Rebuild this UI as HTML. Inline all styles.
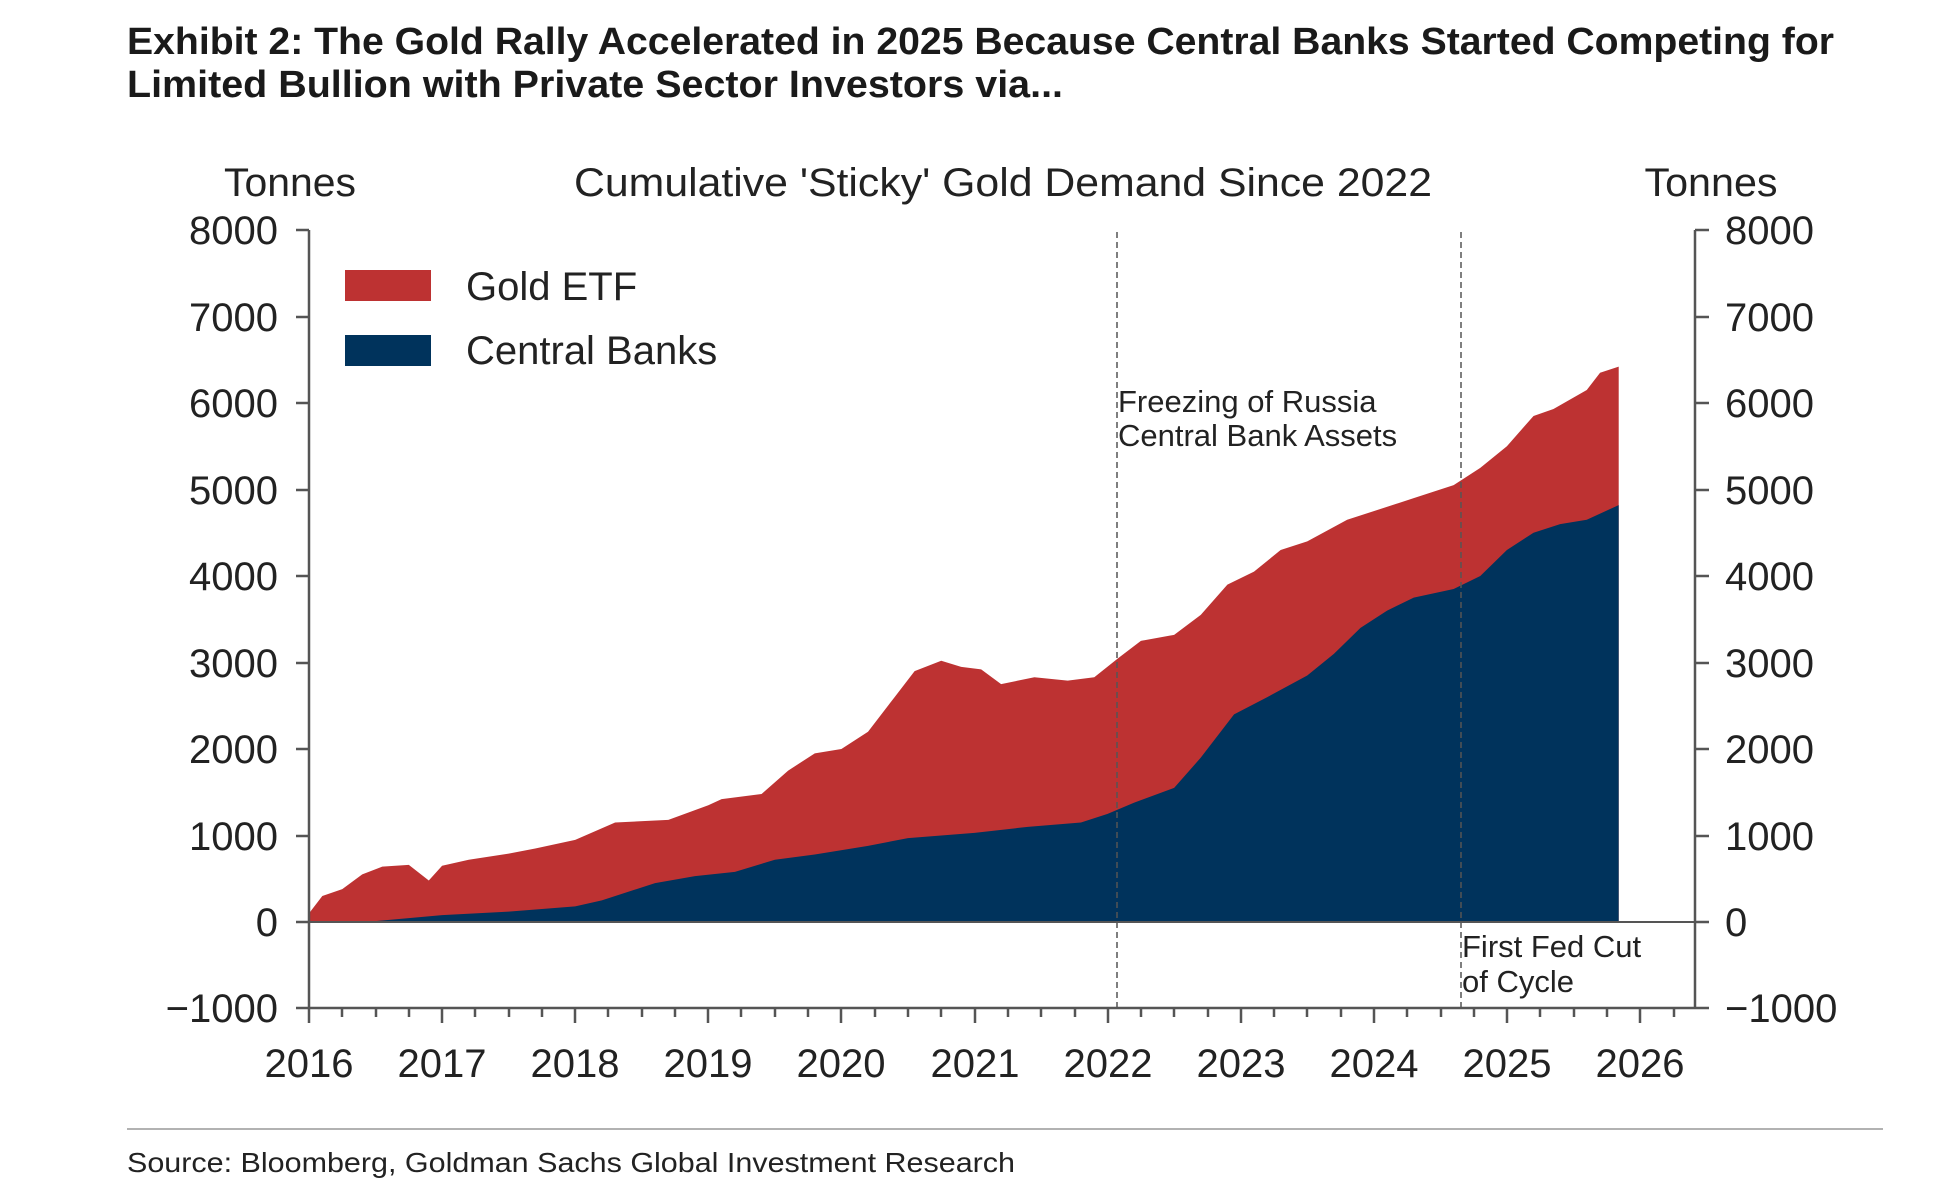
<!DOCTYPE html>
<html><head><meta charset="utf-8"><style>html,body{margin:0;padding:0;background:#fff}svg{display:block}</style></head>
<body>
<svg width="1960" height="1198" viewBox="0 0 1960 1198" xmlns="http://www.w3.org/2000/svg" font-family="Liberation Sans, sans-serif">
<rect width="1960" height="1198" fill="#fff"/>
<text x="127" y="54" font-size="38" font-weight="bold" fill="#1a1a1a" textLength="1707" lengthAdjust="spacingAndGlyphs">Exhibit 2: The Gold Rally Accelerated in 2025 Because Central Banks Started Competing for</text>
<text x="127" y="97" font-size="38" font-weight="bold" fill="#1a1a1a" textLength="936" lengthAdjust="spacingAndGlyphs">Limited Bullion with Private Sector Investors via...</text>

<g fill="#222" font-size="40">
<text x="290" y="196" text-anchor="middle" textLength="132" lengthAdjust="spacingAndGlyphs">Tonnes</text>
<text x="1003" y="196" text-anchor="middle" textLength="858" lengthAdjust="spacingAndGlyphs">Cumulative 'Sticky' Gold Demand Since 2022</text>
<text x="1711" y="196" text-anchor="middle" textLength="133" lengthAdjust="spacingAndGlyphs">Tonnes</text>
</g>

<g transform="translate(309,922) scale(133.1,-0.0865)">
<polygon fill="#bd3232" points="0,0 0,100 0.1,300 0.25,380 0.4,550 0.55,640 0.75,660 0.9,480 1.0,650 1.2,720 1.5,790 1.7,850 2.0,950 2.3,1150 2.7,1180 3.0,1350 3.1,1420 3.4,1480 3.6,1750 3.8,1950 4.0,2000 4.2,2200 4.4,2600 4.55,2900 4.75,3020 4.9,2950 5.05,2920 5.2,2750 5.45,2830 5.7,2790 5.9,2830 6.08,3050 6.25,3250 6.5,3320 6.7,3550 6.9,3900 7.1,4050 7.3,4300 7.5,4400 7.8,4650 8.0,4750 8.3,4900 8.6,5050 8.8,5250 9.0,5500 9.2,5850 9.35,5930 9.6,6150 9.7,6350 9.84,6420 9.84,0"/>
<polygon fill="#00335c" points="0,0 0.5,10 1.0,80 1.5,120 2.0,180 2.2,250 2.6,450 2.9,530 3.2,580 3.5,720 3.8,780 4.2,880 4.5,970 5.0,1030 5.4,1100 5.8,1150 6.0,1250 6.2,1380 6.5,1550 6.7,1900 6.95,2400 7.2,2600 7.5,2850 7.7,3100 7.9,3400 8.1,3600 8.3,3750 8.6,3850 8.8,4000 9.0,4300 9.2,4500 9.4,4600 9.6,4650 9.84,4820 9.84,0"/>
</g>

<g stroke="#555" stroke-width="1.5" stroke-dasharray="6,4">
<line x1="1117" y1="232" x2="1117" y2="1008"/>
<line x1="1461" y1="232" x2="1461" y2="1008"/>
</g>

<g stroke="#555" stroke-width="2.5" fill="none">
<line x1="309" y1="230" x2="309" y2="1009"/>
<line x1="1695" y1="230" x2="1695" y2="1009"/>
<line x1="296" y1="1008" x2="1709" y2="1008"/>
<line x1="309" y1="922" x2="1695" y2="922" stroke-width="2"/>
<path d="M296 230H309M296 317H309M296 403H309M296 490H309M296 576H309M296 663H309M296 749H309M296 836H309M296 922H309"/>
<path d="M1695 230H1709M1695 317H1709M1695 403H1709M1695 490H1709M1695 576H1709M1695 663H1709M1695 749H1709M1695 836H1709M1695 922H1709"/>
<path d="M309 1008v15M442 1008v15M575 1008v15M708 1008v15M841 1008v15M975 1008v15M1108 1008v15M1241 1008v15M1374 1008v15M1507 1008v15M1640 1008v15"/>
<path d="M342 1008v9M376 1008v9M409 1008v9M475 1008v9M509 1008v9M542 1008v9M608 1008v9M642 1008v9M675 1008v9M741 1008v9M775 1008v9M808 1008v9M875 1008v9M908 1008v9M941 1008v9M1008 1008v9M1041 1008v9M1075 1008v9M1141 1008v9M1174 1008v9M1208 1008v9M1274 1008v9M1307 1008v9M1341 1008v9M1407 1008v9M1441 1008v9M1474 1008v9M1540 1008v9M1574 1008v9M1607 1008v9M1674 1008v9"/>
</g>

<g fill="#222" font-size="40">
<g text-anchor="end">
<text x="278" y="244">8000</text><text x="278" y="331">7000</text><text x="278" y="417">6000</text><text x="278" y="504">5000</text><text x="278" y="590">4000</text><text x="278" y="677">3000</text><text x="278" y="763">2000</text><text x="278" y="850">1000</text><text x="278" y="936">0</text><text x="278" y="1022">−1000</text>
</g>
<g>
<text x="1725" y="244">8000</text><text x="1725" y="331">7000</text><text x="1725" y="417">6000</text><text x="1725" y="504">5000</text><text x="1725" y="590">4000</text><text x="1725" y="677">3000</text><text x="1725" y="763">2000</text><text x="1725" y="850">1000</text><text x="1725" y="936">0</text><text x="1725" y="1022">−1000</text>
</g>
<g text-anchor="middle">
<text x="309" y="1077">2016</text><text x="442" y="1077">2017</text><text x="575" y="1077">2018</text><text x="708" y="1077">2019</text><text x="841" y="1077">2020</text><text x="975" y="1077">2021</text><text x="1108" y="1077">2022</text><text x="1241" y="1077">2023</text><text x="1374" y="1077">2024</text><text x="1507" y="1077">2025</text><text x="1640" y="1077">2026</text>
</g>
</g>

<rect x="345" y="270" width="86" height="31" fill="#bd3232"/>
<rect x="345" y="335" width="86" height="31" fill="#00335c"/>
<g fill="#222" font-size="40">
<text x="466" y="300">Gold ETF</text>
<text x="466" y="364">Central Banks</text>
</g>

<g fill="#222" font-size="31">
<text x="1118" y="412">Freezing of Russia</text>
<text x="1118" y="446">Central Bank Assets</text>
<text x="1462" y="957">First Fed Cut</text>
<text x="1462" y="992">of Cycle</text>
</g>

<line x1="127" y1="1129" x2="1883" y2="1129" stroke="#999" stroke-width="1.5"/>
<text x="127" y="1172" font-size="28" fill="#222" textLength="888" lengthAdjust="spacingAndGlyphs">Source: Bloomberg, Goldman Sachs Global Investment Research</text>
</svg>
</body></html>
